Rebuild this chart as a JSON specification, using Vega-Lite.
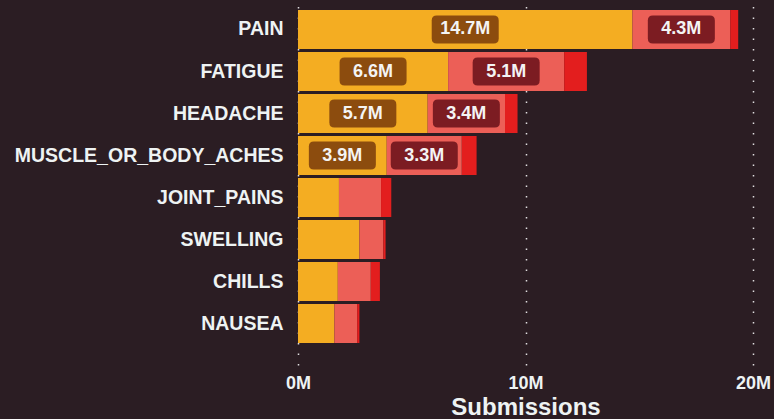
{
  "$schema": "https://vega.github.io/schema/vega-lite/v6.json",
  "autosize": "none",
  "width": 455,
  "height": 360,
  "padding": {"left": 298, "right": 21, "top": 5, "bottom": 54},
  "background": "#2b1d23",
  "config": {"view": {"stroke": null}},
  "data": {
    "values": [
      {"symptom": "PAIN", "seg": "Mild", "k": 1, "value": 14700000, "label": "14.7M"},
      {"symptom": "PAIN", "seg": "Moderate", "k": 2, "value": 4300000, "label": "4.3M"},
      {"symptom": "PAIN", "seg": "Severe", "k": 3, "value": 350000, "label": ""},
      {"symptom": "FATIGUE", "seg": "Mild", "k": 1, "value": 6600000, "label": "6.6M"},
      {"symptom": "FATIGUE", "seg": "Moderate", "k": 2, "value": 5100000, "label": "5.1M"},
      {"symptom": "FATIGUE", "seg": "Severe", "k": 3, "value": 1000000, "label": ""},
      {"symptom": "HEADACHE", "seg": "Mild", "k": 1, "value": 5700000, "label": "5.7M"},
      {"symptom": "HEADACHE", "seg": "Moderate", "k": 2, "value": 3400000, "label": "3.4M"},
      {"symptom": "HEADACHE", "seg": "Severe", "k": 3, "value": 550000, "label": ""},
      {"symptom": "MUSCLE_OR_BODY_ACHES", "seg": "Mild", "k": 1, "value": 3900000, "label": "3.9M"},
      {"symptom": "MUSCLE_OR_BODY_ACHES", "seg": "Moderate", "k": 2, "value": 3300000, "label": "3.3M"},
      {"symptom": "MUSCLE_OR_BODY_ACHES", "seg": "Severe", "k": 3, "value": 650000, "label": ""},
      {"symptom": "JOINT_PAINS", "seg": "Mild", "k": 1, "value": 1800000, "label": ""},
      {"symptom": "JOINT_PAINS", "seg": "Moderate", "k": 2, "value": 1850000, "label": ""},
      {"symptom": "JOINT_PAINS", "seg": "Severe", "k": 3, "value": 450000, "label": ""},
      {"symptom": "SWELLING", "seg": "Mild", "k": 1, "value": 2700000, "label": ""},
      {"symptom": "SWELLING", "seg": "Moderate", "k": 2, "value": 1050000, "label": ""},
      {"symptom": "SWELLING", "seg": "Severe", "k": 3, "value": 100000, "label": ""},
      {"symptom": "CHILLS", "seg": "Mild", "k": 1, "value": 1750000, "label": ""},
      {"symptom": "CHILLS", "seg": "Moderate", "k": 2, "value": 1450000, "label": ""},
      {"symptom": "CHILLS", "seg": "Severe", "k": 3, "value": 400000, "label": ""},
      {"symptom": "NAUSEA", "seg": "Mild", "k": 1, "value": 1600000, "label": ""},
      {"symptom": "NAUSEA", "seg": "Moderate", "k": 2, "value": 1000000, "label": ""},
      {"symptom": "NAUSEA", "seg": "Severe", "k": 3, "value": 100000, "label": ""}
    ]
  },
  "encoding": {
    "y": {
      "field": "symptom",
      "type": "nominal",
      "sort": ["PAIN", "FATIGUE", "HEADACHE", "MUSCLE_OR_BODY_ACHES", "JOINT_PAINS", "SWELLING", "CHILLS", "NAUSEA"],
      "scale": {"paddingInner": 0.071, "paddingOuter": 0.321, "align": 0.185},
      "axis": {
        "title": null,
        "domain": false,
        "ticks": false,
        "grid": false,
        "labelFont": "Liberation Sans",
        "labelFontWeight": "bold",
        "labelFontSize": 19.5,
        "labelColor": "#eef3f3",
        "labelPadding": 15,
        "labelLimit": 400
      }
    }
  },
  "layer": [
    {
      "mark": {"type": "bar"},
      "encoding": {
        "x": {
          "field": "value",
          "type": "quantitative",
          "stack": "zero",
          "scale": {"domain": [0, 20000000], "nice": false},
          "axis": {
            "values": [0, 10000000, 20000000],
            "labelExpr": "(datum.value / 1000000) + 'M'",
            "labelFlush": false,
            "grid": true,
            "gridColor": "#ffffff",
            "gridDash": [1.5, 9],
            "gridWidth": 1.5,
            "gridOpacity": 0.85,
            "domain": false,
            "ticks": false,
            "labelFont": "Liberation Sans",
            "labelFontWeight": "bold",
            "labelFontSize": 18,
            "labelColor": "#eef3f3",
            "labelPadding": 9,
            "title": "Submissions",
            "titleFont": "Liberation Sans",
            "titleFontWeight": "bold",
            "titleFontSize": 24,
            "titleColor": "#eef3f3",
            "titlePadding": 3
          }
        },
        "color": {
          "field": "seg",
          "type": "nominal",
          "scale": {"domain": ["Mild", "Moderate", "Severe"], "range": ["#f4ad22", "#ec5f57", "#e31e1e"]},
          "legend": null
        },
        "order": {"field": "k", "type": "quantitative"}
      }
    },
    {
      "mark": {
        "type": "point",
        "shape": "M -0.85 -0.418 L 0.85 -0.418 Q 1 -0.418 1 -0.268 L 1 0.268 Q 1 0.418 0.85 0.418 L -0.85 0.418 Q -1 0.418 -1 0.268 L -1 -0.268 Q -1 -0.418 -0.85 -0.418 Z",
        "size": 4489,
        "filled": true,
        "strokeWidth": 0
      },
      "encoding": {
        "x": {"field": "value", "type": "quantitative", "stack": "zero", "bandPosition": 0.5},
        "fill": {
          "field": "seg",
          "type": "nominal",
          "scale": {"domain": ["Mild", "Moderate", "Severe"], "range": ["#8c4c0e", "#7c1c22", "#7c1c22"]},
          "legend": null
        },
        "opacity": {"condition": {"test": "datum.label == ''", "value": 0}, "value": 1},
        "order": {"field": "k", "type": "quantitative"}
      }
    },
    {
      "mark": {"type": "text", "font": "Liberation Sans", "fontWeight": "bold", "fontSize": 18, "color": "#f4f4f4", "align": "center", "baseline": "middle"},
      "encoding": {
        "x": {"field": "value", "type": "quantitative", "stack": "zero", "bandPosition": 0.5},
        "detail": {"field": "seg", "type": "nominal"},
        "text": {"field": "label", "type": "nominal"},
        "order": {"field": "k", "type": "quantitative"}
      }
    }
  ]
}
